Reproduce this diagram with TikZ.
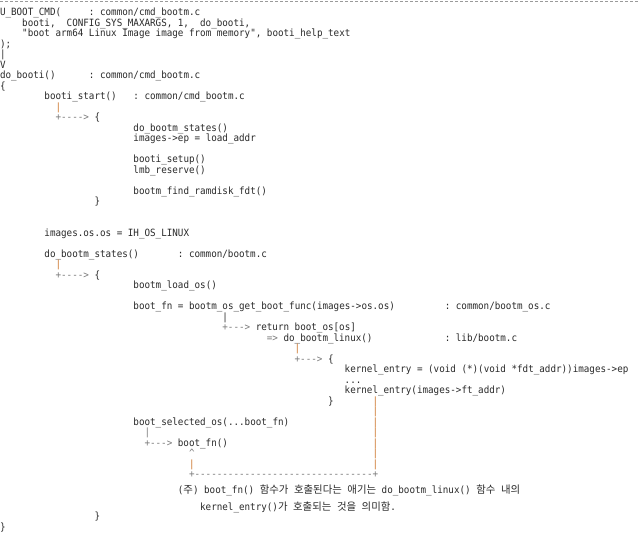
\documentclass[tikz,border=0pt]{standalone}
\usepackage{fontspec}
\setmonofont{DejaVu Sans Mono}[FakeStretch=0.924]
\newfontfamily\krfont{Noto Sans CJK KR}
\definecolor{txt}{HTML}{2A2A2A}
\definecolor{con}{HTML}{7A7A7A}
\definecolor{org}{HTML}{CC7428}
\definecolor{rule}{HTML}{9A9A9A}
\newcommand\cw{5.56}
\newcommand\codeat[5]{\node[code,#1] (#2) at ({#3*\cw},{15.5+#4*10.5}) {#5};}
\tikzset{
  code/.style={anchor=base west, inner sep=0pt, outer sep=0pt, text=txt,
               font=\ttfamily\fontsize{10pt}{12pt}\selectfont},
  link/.style={text=con},
  pipe/.style={text=org},
  krnote/.style={code, font=\ttfamily\fontsize{10pt}{12pt}\selectfont},
}
\newcommand\kr[1]{{\krfont\fontsize{10.4pt}{12pt}\selectfont #1}}
\begin{document}
\begin{tikzpicture}[x=1pt,y=-1pt]
\useasboundingbox (0,0) rectangle (640,539);
\fill[white] (0,0) rectangle (640,539);
\coordinate (tl) at (0,1.8);
\coordinate (tr) at (640,1.8);
\draw[rule, line width=0.8pt, dash pattern=on 3pt off 2pt] (tl) -- (tr);
% U_BOOT_CMD
\codeat{}{a0}{0}{0}{U\_BOOT\_CMD(}
\codeat{}{a0f}{16}{0}{: common/cmd\_bootm.c}
\codeat{}{a1a}{4}{1}{booti,}
\codeat{}{a1b}{12}{1}{CONFIG\_SYS\_MAXARGS,}
\codeat{}{a1c}{32}{1}{1,}
\codeat{}{a1d}{36}{1}{do\_booti,}
\codeat{}{a2}{4}{2}{"boot arm64 Linux Image image from memory", booti\_help\_text}
\codeat{}{a3}{0}{3}{);}
\codeat{}{a4}{0}{4}{|}
\codeat{}{a5}{0}{5}{V}
% do_booti
\codeat{}{b6}{0}{6}{do\_booti()}
\codeat{}{b6f}{16}{6}{: common/cmd\_bootm.c}
\codeat{}{b7}{0}{7}{\{}
\codeat{}{b8}{8}{8}{booti\_start()}
\codeat{}{b8f}{24}{8}{: common/cmd\_bootm.c}
\codeat{pipe}{b9}{10}{9}{|}
\codeat{link}{b10}{10}{10}{+---->}
\codeat{}{b10b}{17}{10}{\{}
\codeat{}{b11}{24}{11}{do\_bootm\_states()}
\codeat{}{b12}{24}{12}{images->ep = load\_addr}
\codeat{}{b14}{24}{14}{booti\_setup()}
\codeat{}{b15}{24}{15}{lmb\_reserve()}
\codeat{}{b17}{24}{17}{bootm\_find\_ramdisk\_fdt()}
\codeat{}{b18}{17}{18}{\}}
% images.os.os
\codeat{}{c21}{8}{21}{images.os.os = IH\_OS\_LINUX}
\codeat{}{c23}{8}{23}{do\_bootm\_states()}
\codeat{}{c23f}{32}{23}{: common/bootm.c}
\codeat{pipe}{c24}{10}{24}{|}
\codeat{link}{c25}{10}{25}{+---->}
\codeat{}{c25b}{17}{25}{\{}
\codeat{}{c26}{24}{26}{bootm\_load\_os()}
\codeat{}{c28}{24}{28}{boot\_fn = bootm\_os\_get\_boot\_func(images->os.os)}
\codeat{}{c28f}{80}{28}{: common/bootm\_os.c}
\codeat{}{c29}{40}{29}{|}
\codeat{link}{c30}{40}{30}{+--->}
\codeat{}{c30b}{46}{30}{return boot\_os[os]}
\codeat{link}{c31a}{48}{31}{=>}
\codeat{}{c31}{51}{31}{do\_bootm\_linux()}
\codeat{}{c31f}{80}{31}{: lib/bootm.c}
\codeat{pipe}{c32}{53}{32}{|}
\codeat{link}{c33}{53}{33}{+--->}
\codeat{}{c33b}{59}{33}{\{}
\codeat{}{c34}{62}{34}{kernel\_entry = (void (*)(void *fdt\_addr))images->ep}
\codeat{}{c35}{62}{35}{...}
\codeat{}{c36}{62}{36}{kernel\_entry(images->ft\_addr)}
\codeat{}{c37}{59}{37}{\}}
% right-hand pipe column
\codeat{pipe}{p37}{67}{37}{|}
\codeat{pipe}{p38}{67}{38}{|}
\codeat{pipe}{p39}{67}{39}{|}
\codeat{pipe}{p40}{67}{40}{|}
\codeat{pipe}{p41}{67}{41}{|}
\codeat{pipe}{p42}{67}{42}{|}
\codeat{pipe}{p43}{67}{43}{|}
% boot_selected_os
\codeat{}{d39}{24}{39}{boot\_selected\_os(...boot\_fn)}
\codeat{link}{d40}{26}{40}{|}
\codeat{link}{d41}{26}{41}{+--->}
\codeat{}{d41b}{32}{41}{boot\_fn()}
\codeat{link}{d42}{34}{42}{\textasciicircum}
\codeat{pipe}{d43}{34}{43}{|}
\codeat{link}{d44}{34}{44}{+--------------------------------+}
% note
\node[krnote] (n1) at ({32*\cw},493) {(\kr{주}) boot\_fn() \kr{함수가} \kr{호출된다는} \kr{애기는} do\_bootm\_linux() \kr{함수} \kr{내의}};
\node[krnote] (n2) at ({36*\cw},510.5) {kernel\_entry()\kr{가} \kr{호출되는} \kr{것을} \kr{의미함}.};
% closing braces
\codeat{}{e48}{17}{48}{\}}
\codeat{}{e49}{0}{49}{\}}
\end{tikzpicture}
\end{document}
